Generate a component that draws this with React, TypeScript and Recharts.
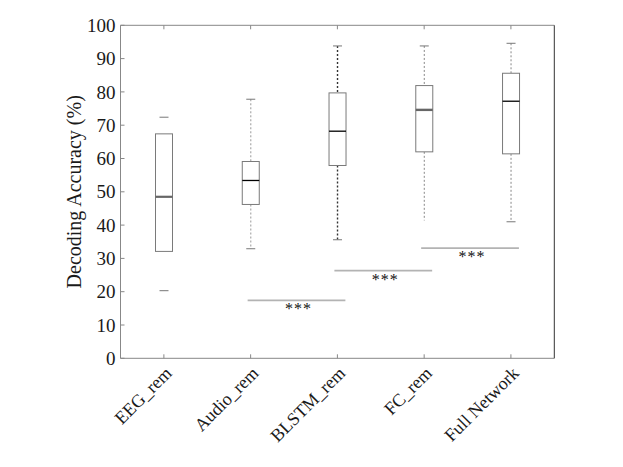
import React from 'react';
import { ComposedChart, Bar, XAxis, YAxis, ReferenceLine } from 'recharts';

const categories = ['EEG_rem', 'Audio_rem', 'BLSTM_rem', 'FC_rem', 'Full Network'];
const whiskerLow = [20.3, 32.9, 35.6, 41.4, 41.0];
const q1 = [32.1, 46.2, 57.9, 62.0, 61.4];
const median = [48.5, 53.4, 68.2, 74.6, 77.2];
const q3 = [67.4, 59.1, 79.7, 81.9, 85.6];
const whiskerHigh = [72.4, 77.8, 93.8, 93.8, 94.6];
const yTicks = [0, 10, 20, 30, 40, 50, 60, 70, 80, 90, 100];
const sigFrom = ['Audio_rem', 'BLSTM_rem', 'FC_rem'];
const sigTo = ['BLSTM_rem', 'FC_rem', 'Full Network'];
const sigLevel = [17.4, 26.3, 33.1];
const sigLabel = ['***', '***', '***'];

const data = categories.map((cat, i) => ({
  cat,
  lo: whiskerLow[i],
  q1: q1[i],
  med: median[i],
  q3: q3[i],
  hi: whiskerHigh[i],
}));

const FONT = 'Liberation Serif, Times New Roman, serif';
const TEXT = '#1a1a1a';

const boxStyles = [
  { whisker: false, lowCap: true, highCap: true, wColor: '#aaa', wWidth: 1, medColor: '#666', medWidth: 2.2 },
  { whisker: true, lowCap: true, highCap: true, wColor: '#aaa', wWidth: 1.2, medColor: '#000', medWidth: 1.3 },
  { whisker: true, lowCap: true, highCap: true, wColor: '#333', wWidth: 1.4, medColor: '#000', medWidth: 1.3 },
  { whisker: true, lowCap: false, highCap: true, wColor: '#888', wWidth: 1, medColor: '#666', medWidth: 2.4 },
  { whisker: true, lowCap: true, highCap: true, wColor: '#888', wWidth: 1, medColor: '#000', medWidth: 1.3 },
];

const BoxShape = (props: any) => {
  const { x, y, width, height, payload, index } = props;
  if (payload == null) return null;
  const top = Math.min(y, y + height);
  const bot = Math.max(y, y + height);
  const lo = payload.lo;
  const hi = payload.hi;
  const px = (v: number) => top + ((bot - top) * (hi - v)) / (hi - lo);
  const cx = x + width / 2;
  const st = boxStyles[index] || boxStyles[1];
  const capHalf = 4.5;
  const yq1 = px(payload.q1);
  const yq3 = px(payload.q3);
  const ymed = px(payload.med);
  const yLo = px(lo);
  const yHi = px(hi);
  return (
    <g>
      {st.whisker && (
        <>
          <line x1={cx} x2={cx} y1={yHi} y2={yq3} stroke={st.wColor} strokeWidth={st.wWidth} strokeDasharray="2 2" />
          <line x1={cx} x2={cx} y1={yq1} y2={yLo} stroke={st.wColor} strokeWidth={st.wWidth} strokeDasharray="2 2" />
        </>
      )}
      {st.highCap && <line x1={cx - capHalf} x2={cx + capHalf} y1={yHi} y2={yHi} stroke="#777" strokeWidth={1} />}
      {st.lowCap && <line x1={cx - capHalf} x2={cx + capHalf} y1={yLo} y2={yLo} stroke="#777" strokeWidth={1} />}
      <rect x={x} y={yq3} width={width} height={yq1 - yq3} fill="#fff" stroke="#7a7a7a" strokeWidth={1} />
      <line x1={x} x2={x + width} y1={ymed} y2={ymed} stroke={st.medColor} strokeWidth={st.medWidth} />
    </g>
  );
};

const BottomTick = (props: any) => {
  const { x, y, payload } = props;
  return (
    <g>
      <line x1={x} x2={x} y1={y} y2={y - 4} stroke="#888" />
      <text
        x={x + 9}
        y={y + 16}
        textAnchor="end"
        transform={`rotate(-45 ${x + 9} ${y + 16})`}
        fontFamily={FONT}
        fontSize={18}
        fill={TEXT}
      >
        {payload.value}
      </text>
    </g>
  );
};

const TopTick = (props: any) => {
  const { x, y } = props;
  return <line x1={x} x2={x} y1={y} y2={y + 4} stroke="#888" />;
};

const LeftTick = (props: any) => {
  const { x, y, payload } = props;
  return (
    <g>
      <line x1={x} x2={x + 4} y1={y} y2={y} stroke="#888" />
      <text x={x - 5} y={y} dy="0.35em" textAnchor="end" fontFamily={FONT} fontSize={19} fill={TEXT}>
        {payload.value}
      </text>
    </g>
  );
};

const RightTick = (props: any) => {
  const { x, y } = props;
  return <line x1={x} x2={x - 4} y1={y} y2={y} stroke="#888" />;
};

const SigShape = (props: any) => {
  const { x1, y1, x2, label } = props;
  if (x1 == null) return null;
  const a = Math.min(x1, x2) - 3;
  const b = Math.max(x1, x2) + 8;
  const mid = (a + b) / 2;
  return (
    <g>
      <line x1={a} x2={b} y1={y1} y2={y1} stroke="#b3b3b3" strokeWidth={1.8} />
      <text
        x={mid + 2}
        y={y1 + 14}
        textAnchor="middle"
        fontFamily={FONT}
        fontSize={16}
        style={{ fill: '#111' }}
        letterSpacing={1}
      >
        {label}
      </text>
    </g>
  );
};

export default function App() {
  return (
    <div style={{ width: 607, height: 451 }}>
      <ComposedChart
        width={607}
        height={451}
        data={data}
        margin={{ top: 12.3, right: 55.7, bottom: 20.7, left: 52.5 }}
        barCategoryGap={0}
      >
        <XAxis
          dataKey="cat"
          xAxisId={0}
          interval={0}
          tickLine={false}
          tickSize={0}
          tickMargin={0}
          axisLine={{ stroke: '#888' }}
          tick={<BottomTick />}
          height={80}
        />
        <XAxis
          dataKey="cat"
          xAxisId="top"
          orientation="top"
          interval={0}
          tickLine={false}
          tickSize={0}
          tickMargin={0}
          axisLine={{ stroke: '#888' }}
          tick={<TopTick />}
          height={5}
        />
        <YAxis
          yAxisId={0}
          domain={[0, 100]}
          ticks={yTicks}
          interval={0}
          tickLine={false}
          tickSize={0}
          tickMargin={0}
          axisLine={{ stroke: '#888' }}
          tick={<LeftTick />}
          width={60}
          label={{
            value: 'Decoding Accuracy (%)',
            angle: -90,
            position: 'center',
            dx: -17,
            style: { fontFamily: FONT, fontSize: 20, fill: TEXT },
          }}
        />
        <YAxis
          yAxisId="right"
          orientation="right"
          domain={[0, 100]}
          ticks={yTicks}
          interval={0}
          tickLine={false}
          tickSize={0}
          tickMargin={0}
          axisLine={{ stroke: '#333' }}
          tick={<RightTick />}
          width={5}
        />
        <Bar
          dataKey={(d: any) => [d.lo, d.hi]}
          xAxisId={0}
          yAxisId={0}
          barSize={17}
          shape={<BoxShape />}
          isAnimationActive={false}
        />
        {sigLevel.map((lvl, i) => (
          <ReferenceLine
            key={i}
            xAxisId={0}
            yAxisId={0}
            segment={[
              { x: sigFrom[i], y: lvl },
              { x: sigTo[i], y: lvl },
            ]}
            shape={(p: any) => <SigShape {...p} label={sigLabel[i]} />}
          />
        ))}
      </ComposedChart>
    </div>
  );
}
